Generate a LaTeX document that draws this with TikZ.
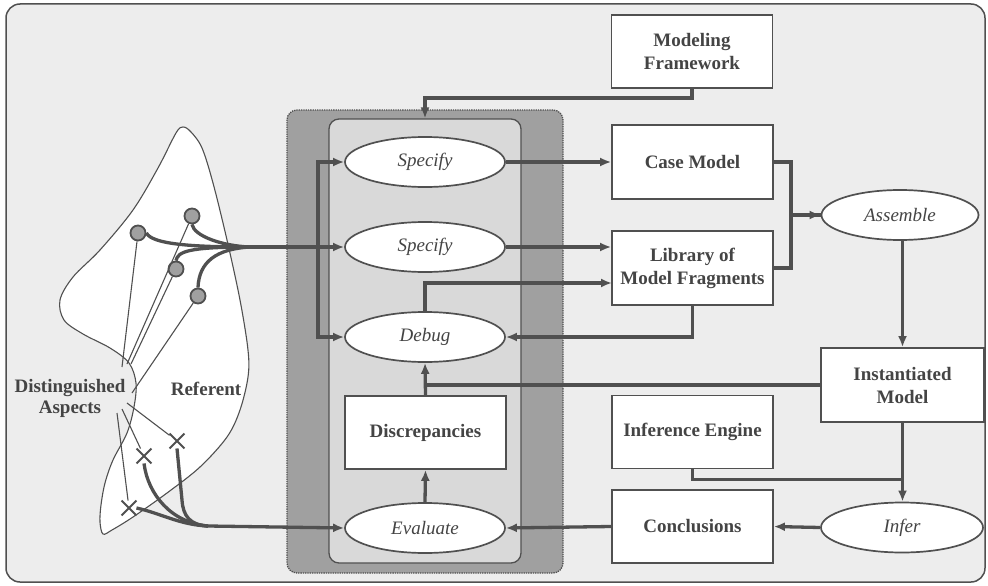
\documentclass[tikz,border=0pt]{standalone}
\usepackage{fontspec}
\setmainfont{Liberation Serif}
\usetikzlibrary{arrows.meta,shapes.geometric,shapes.misc}
\definecolor{ink}{HTML}{505050}
\definecolor{txt}{HTML}{444444}
\definecolor{paper}{HTML}{EDEDED}
\definecolor{shade}{HTML}{A0A0A0}
\definecolor{panel}{HTML}{D9D9D9}
\tikzset{
  base/.style={draw=ink, line width=1.7pt, fill=white, text=txt, align=center, inner sep=0pt},
  box/.style={base, rectangle, font=\fontsize{19}{23}\selectfont\bfseries,
              minimum width=161pt, minimum height=73pt},
  act/.style={base, ellipse, font=\fontsize{19}{23}\selectfont\itshape,
              minimum width=160pt, minimum height=50pt},
  flow/.style={draw=ink, line width=3.3pt, -{Latex[length=11pt,width=9pt]}},
  link/.style={draw=ink, line width=3.3pt},
  fine/.style={draw=ink, line width=1.1pt},
  aspect/.style={circle, draw=ink, line width=1.8pt, fill=shade, minimum size=15pt, inner sep=0pt},
  miss/.style={cross out, draw=ink, line width=1.9pt, minimum size=13pt, inner sep=0pt},
  lbl/.style={text=txt, font=\fontsize{19}{21}\selectfont\bfseries, align=center, inner sep=0pt}
}
\begin{document}
\begin{tikzpicture}[x=1pt, y=-1pt]
\useasboundingbox (0,0) rectangle (988,586);

% frame
\draw[ink, line width=1.5pt, fill=paper, rounded corners=14pt] (6,4) rectangle (985,582);

% the referent and its distinguished aspects
\draw[ink, line width=1.1pt, fill=white] plot[smooth cycle, tension=0.55] coordinates {
  (176,133) (183,127) (191,132) (202,148) (213,183) (227,240) (240,300) (248,350)
  (248,377) (240,410) (227,437) (200,467) (167,493) (133,517) (112,530) (103,534)
  (100,522) (101,505) (105,483) (113,460) (127,433) (134,407) (136,383) (129,363)
  (110,348) (83,334) (64,320) (60,300) (73,277) (100,250) (133,210) (158,168)};

\node[lbl] (dist) at (70,398) {Distinguished\\Aspects};
\node[lbl] (ref) at (206,389) {Referent};

\node[aspect] (c1) at (138,233) {};
\node[aspect] (c2) at (192,216) {};
\node[aspect] (c3) at (176,269) {};
\node[aspect] (c4) at (198,296) {};

\node[miss] (xa) at (144,456) {};
\node[miss] (xb) at (177,441) {};
\node[miss] (xc) at (129,508) {};

\coordinate (d1) at (122,367);
\coordinate (d2) at (127,364);
\coordinate (d3) at (131,364);
\coordinate (d4) at (132,393);
\coordinate (d5) at (127,403);
\coordinate (d6) at (122,409);
\coordinate (d7) at (117,413);
\draw[fine] (d1) -- (c1);
\draw[fine] (d2) -- (c2);
\draw[fine] (d3) -- (c3);
\draw[fine] (d4) -- (c4);
\draw[fine] (d5) -- (xb);
\draw[fine] (d6) -- (xa);
\draw[fine] (d7) -- (xc);

% working panels
\node[draw=ink, densely dotted, line width=1.3pt, fill=shade, rounded corners=10pt,
      minimum width=276pt, minimum height=463pt] (outer) at (425,341.5) {};
\node[draw=ink, line width=1.3pt, fill=panel, rounded corners=10pt,
      minimum width=192pt, minimum height=444pt] (inner) at (425,341) {};

% activities and products
\node[act] (spec1) at (425,162) {Specify};
\node[act] (spec2) at (425,247) {Specify};
\node[act] (debug) at (425,337) {Debug};
\node[box] (disc) at (425.5,432.5) {Discrepancies};
\node[act] (eval) at (425,528) {Evaluate};

\node[box, minimum height=73pt] (mf) at (692,51.5) {Modeling\\Framework};
\node[box, minimum height=74pt] (case) at (692.5,162) {Case Model};
\node[box, minimum height=74pt] (lib) at (692.5,268) {Library of\\Model Fragments};
\node[box] (ie) at (692.5,432) {Inference Engine};
\node[box] (concl) at (692.5,526.5) {Conclusions};

\node[act, minimum width=157pt] (asm) at (900,215) {Assemble};
\node[box, minimum width=163pt, minimum height=74pt] (inst) at (902.5,385) {Instantiated\\Model};
\node[act, minimum width=162pt] (infer) at (902,527.5) {Infer};

% aspects gathered into the specification step
\coordinate (merge) at (250,247);
\coordinate (split) at (318,247);
\draw[link] (c1.east) .. controls (152,244) and (190,247) .. (merge);
\draw[link] (c2.south) .. controls (194,236) and (222,246) .. (merge);
\draw[link] (c3.north) .. controls (178,252) and (186,247) .. (merge);
\draw[link] (c4.north) .. controls (199,262) and (216,249) .. (merge);
\draw[flow] (merge) -- (spec2.west);
\draw[flow] (split) |- (spec1.west);
\draw[flow] (split) |- (debug.west);

% observed aspects gathered into evaluation
\coordinate (merge2) at (208,526);
\draw[link] (xa.south) .. controls (148,495) and (172,523) .. (merge2);
\draw[link] (xb.south) -- (182,500) .. controls (183,516) and (190,525) .. (merge2);
\draw[link] (xc.east) .. controls (160,513) and (180,525) .. (merge2);
\draw[flow] (merge2) -- (eval.west);

% modeling loop
\draw[flow] (mf.south) -- ++(0,9) -| (inner.north);
\draw[flow] (spec1.east) -- (spec1.east -| case.west);
\draw[flow] (spec2.east) -- (spec2.east -| lib.west);
\coordinate (libin) at (612,283);
\draw[flow] (debug.north) |- (libin);
\draw[flow] (lib.south) |- (debug.east);
\draw[link] (case.east) -- ++(17,0) |- (asm.west);
\draw[flow] (lib.east) -- ++(17,0) |- (asm.west);
\draw[flow] (asm.south -| inst.north) -- (inst.north);
\draw[link] (inst.west) -- (inst.west -| disc.north);
\draw[flow] (disc.north) -- (debug.south);
\draw[flow] (eval.north) -- (disc.south);
\draw[link] (ie.south) -- ++(0,10) -| (inst.south);
\draw[flow] (inst.south) -- (inst.south |- infer.north);
\draw[flow] (infer.west) -- (concl.east);
\draw[flow] (concl.west) -- (eval.east);
\end{tikzpicture}
\end{document}
